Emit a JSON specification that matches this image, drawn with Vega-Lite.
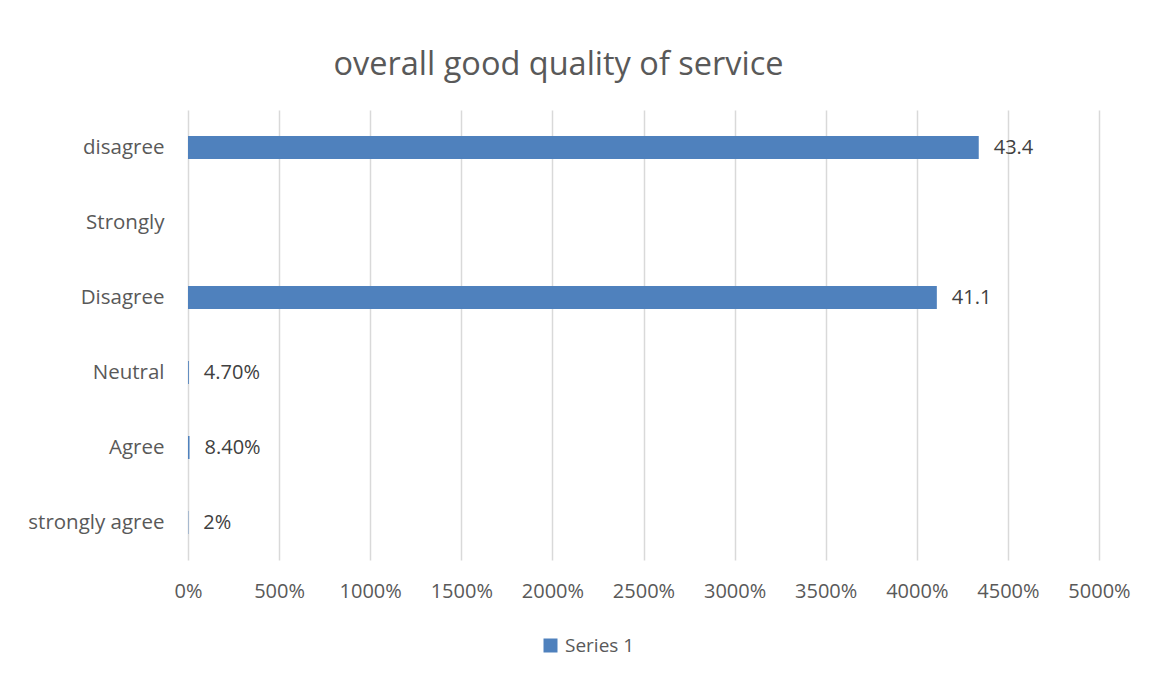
{
  "$schema": "https://vega.github.io/schema/vega-lite/v6.json",
  "autosize": "none",
  "width": 911,
  "height": 450,
  "padding": {"left": 188, "top": 110, "right": 50, "bottom": 117},
  "background": "#ffffff",
  "title": {
    "text": "overall good quality of service",
    "font": "Open Sans",
    "fontSize": 32.5,
    "fontWeight": "normal",
    "color": "#595959",
    "anchor": "middle",
    "dx": -85,
    "offset": 29
  },
  "data": {
    "values": [
      {"category": "disagree", "value": 43.4, "label": "43.4", "series": "Series 1"},
      {"category": "Strongly", "value": null, "label": "", "series": "Series 1"},
      {"category": "Disagree", "value": 41.1, "label": "41.1", "series": "Series 1"},
      {"category": "Neutral", "value": 0.047, "label": "4.70%", "series": "Series 1"},
      {"category": "Agree", "value": 0.084, "label": "8.40%", "series": "Series 1"},
      {"category": "strongly agree", "value": 0.02, "label": "2%", "series": "Series 1"}
    ]
  },
  "encoding": {
    "y": {
      "field": "category",
      "type": "nominal",
      "sort": null,
      "scale": {"domain": ["disagree", "Strongly", "Disagree", "Neutral", "Agree", "strongly agree"]},
      "axis": {
        "title": null,
        "domain": false,
        "ticks": false,
        "labelFont": "Open Sans",
        "labelFontSize": 20.5,
        "labelColor": "#595959",
        "labelPadding": 24
      }
    },
    "x": {
      "field": "value",
      "type": "quantitative",
      "scale": {"domain": [0, 50], "nice": false},
      "axis": {
        "title": null,
        "values": [0, 5, 10, 15, 20, 25, 30, 35, 40, 45, 50],
        "format": ".0%",
        "domain": false,
        "ticks": false,
        "grid": true,
        "gridColor": "#D9D9D9",
        "gridWidth": 1.5,
        "labelFont": "Open Sans",
        "labelFontSize": 20,
        "labelColor": "#595959",
        "labelPadding": 21,
        "labelFlush": false
      }
    }
  },
  "layer": [
    {
      "mark": {"type": "bar", "size": 23},
      "encoding": {
        "color": {
          "field": "series",
          "type": "nominal",
          "scale": {"range": ["#4F81BD"]},
          "legend": {
            "title": null,
            "orient": "none",
            "legendX": 353,
            "legendY": 526,
            "symbolType": "square",
            "symbolSize": 196,
            "symbolStrokeWidth": 0,
            "labelFont": "Open Sans",
            "labelFontSize": 19,
            "labelColor": "#595959",
            "labelOffset": 5
          }
        }
      }
    },
    {
      "mark": {"type": "text", "align": "left", "baseline": "middle", "dx": 15, "font": "Open Sans", "fontSize": 20, "color": "#404040"},
      "encoding": {
        "text": {"field": "label"}
      }
    }
  ],
  "config": {"view": {"stroke": null}}
}
